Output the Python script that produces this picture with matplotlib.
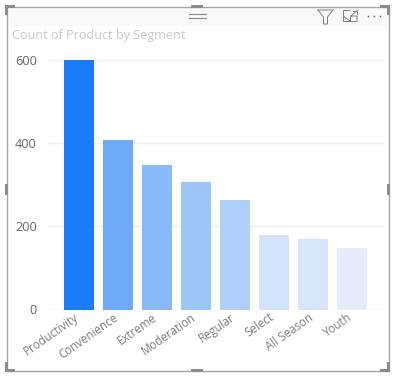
import matplotlib
matplotlib.use("Agg")
import matplotlib.pyplot as plt
from matplotlib.patches import Rectangle
from matplotlib.transforms import ScaledTranslation

categories = ["Productivity", "Convenience", "Extreme", "Moderation", "Regular", "Select", "All Season", "Youth"]
counts = [600, 407, 348, 307, 263, 178, 170, 148]
bar_colors = ["#1a7cf8", "#6eaaf7", "#88b9f8", "#9bc5f9", "#afcffa", "#d2e3fb", "#d8e6fa", "#e2ecfb"]
y_ticks = [0, 200, 400, 600]
title = "Count of Product by Segment"

W, H = 397, 378
plt.rcParams["font.family"] = ["Open Sans", "DejaVu Sans"]
fig = plt.figure(figsize=(W / 100, H / 100), dpi=100, facecolor="white")

# overlay in pixel coordinates for the visual container chrome
ov = fig.add_axes([0, 0, 1, 1], zorder=0)
ov.set_xlim(0, W)
ov.set_ylim(H, 0)
ov.axis("off")
GRAY = "#a6a6a6"
HANDLE = "#8c8c8c"
ov.add_patch(Rectangle((7, 7), 381, 19, fc="#f9f9f9", ec="none"))
ov.add_patch(Rectangle((6.5, 6.5), 382, 364, fc="none", ec=GRAY, lw=1))
for (x, y, w, h) in [(5, 5, 10, 3), (5, 5, 3, 10), (380, 5, 10, 3), (387, 5, 3, 10),
                     (5, 369, 10, 3), (5, 362, 3, 10), (380, 369, 10, 3), (387, 362, 3, 10),
                     (191, 5, 12, 3), (191, 369, 12, 3), (5, 184, 3, 11), (387, 184, 3, 11)]:
    ov.add_patch(Rectangle((x, y), w, h, fc=HANDLE, ec="none"))
for y in (14, 17.5):
    ov.plot([189, 206], [y, y], color="#8a8a8a", lw=0.8)
# filter icon
ov.plot([318, 333, 327.5, 327.5, 323.5, 323.5, 318], [10, 10, 17, 24, 24, 17, 10], color="#808080", lw=0.7)
# focus icon
ov.plot([350, 343.5, 343.5, 357, 357, 350.5, 350.5, 343.5], [10.5, 10.5, 21.5, 21.5, 16, 16, 21.5, 16], color="#808080", lw=0.7)
ov.plot([351, 357], [16, 10.5], color="#808080", lw=0.7)
ov.plot([353, 357, 357], [10.5, 10.5, 14], color="#808080", lw=0.7)
ov.plot([368, 374, 380], [16, 16, 16], ls="none", marker="s", ms=1.1, mew=0, color="#666666")
ov.text(12, 35.5, title, fontsize=9.1, color="#c8c8c8", va="center", ha="left")

# chart
left, right, top, bottom = 48, 384, 60, 309.5
ax = fig.add_axes([left / W, 1 - bottom / H, (right - left) / W, (bottom - top) / H], zorder=1)
ax.patch.set_alpha(0)
x = list(range(len(categories)))
ax.bar(x, counts, width=0.79, color=bar_colors, zorder=2)
ax.set_xlim(-0.795, 7.82)
ax.set_ylim(0, 600)
ax.set_yticks(y_ticks)
ax.set_yticklabels([str(v) for v in y_ticks], fontsize=9.2, color="#666666")
ax.set_xticks(x)
ax.set_xticklabels(categories, fontsize=8.3, color="#807a78", rotation=35, ha="right", rotation_mode="anchor")
ax.tick_params(axis="both", length=0)
ax.tick_params(axis="y", pad=8)
ax.tick_params(axis="x", pad=1)
ax.grid(axis="y", color="#eeeeee", lw=1, zorder=0)
for s in ax.spines.values():
    s.set_visible(False)
shift = ScaledTranslation(-5 / 100, 0, fig.dpi_scale_trans)
for t in ax.get_xticklabels():
    t.set_transform(t.get_transform() + shift)

fig.savefig("out.png", dpi=100)
